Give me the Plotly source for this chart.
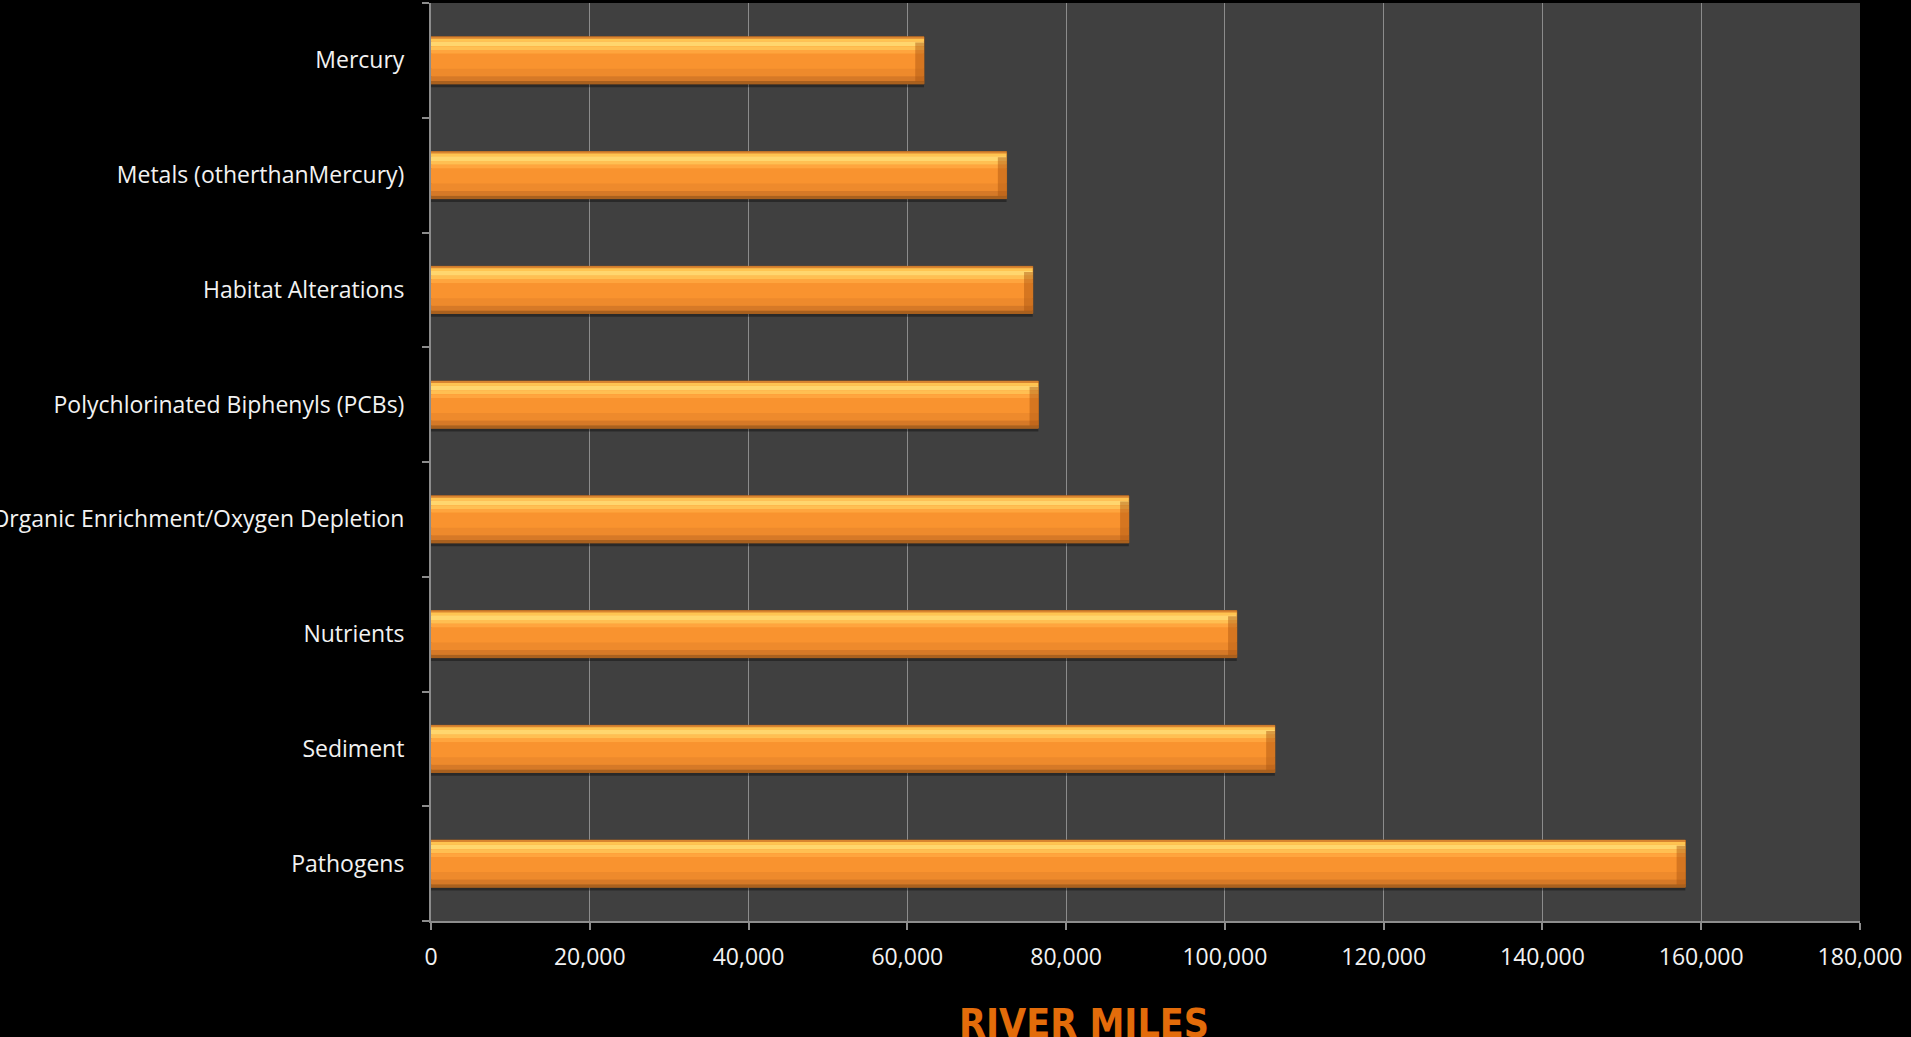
import plotly.graph_objects as go

# Impairment causes, listed bottom-to-top as they appear on the axis
causes = [
    "Pathogens",
    "Sediment",
    "Nutrients",
    "Organic Enrichment/Oxygen Depletion",
    "Polychlorinated Biphenyls (PCBs)",
    "Habitat Alterations",
    "Metals (otherthanMercury)",
    "Mercury",
]
river_miles = [158000, 106300, 101500, 87900, 76500, 75800, 72500, 62100]

x_ticks = [0, 20000, 40000, 60000, 80000, 100000, 120000, 140000, 160000, 180000]
x_tick_text = ["0", "20,000", "40,000", "60,000", "80,000", "100,000",
               "120,000", "140,000", "160,000", "180,000"]

BAR_H = 0.41  # bar thickness in category units
HALF = BAR_H / 2

# Horizontal shading bands (fraction from top of bar, fraction to, colour)
bands = [
    (0.00, 0.04, "#D98530"),
    (0.04, 0.10, "#FFC451"),
    (0.10, 0.20, "#FFD66E"),
    (0.20, 0.28, "#FFBF52"),
    (0.28, 0.36, "#FFA53E"),
    (0.36, 0.68, "#F9932F"),
    (0.68, 0.84, "#EE8A2C"),
    (0.84, 0.94, "#D67927"),
    (0.94, 1.00, "#A9601E"),
]

fig = go.Figure()

# soft drop shadow under each bar
fig.add_trace(go.Bar(
    y=causes, x=river_miles, orientation="h",
    offset=-HALF - 0.03, width=BAR_H,
    marker=dict(color="rgba(0,0,0,0.35)", line=dict(width=0)),
    hoverinfo="skip", showlegend=False,
))

# main body with outline
fig.add_trace(go.Bar(
    y=causes, x=river_miles, orientation="h",
    offset=-HALF, width=BAR_H,
    marker=dict(color="#F8922F", line=dict(color="#A85E1C", width=1)),
    hoverinfo="skip", showlegend=False,
))

# gradient bands
for t1, t2, col in bands:
    fig.add_trace(go.Bar(
        y=causes, x=river_miles, orientation="h",
        offset=HALF - t2 * BAR_H, width=(t2 - t1) * BAR_H,
        marker=dict(color=col, line=dict(width=0)),
        hoverinfo="skip", showlegend=False,
    ))

# darker bevel at the right end of each bar
bevel = 1100
fig.add_trace(go.Bar(
    y=causes, x=[bevel] * len(causes), base=[v - bevel for v in river_miles],
    orientation="h", offset=-HALF + 0.05 * BAR_H, width=0.83 * BAR_H,
    marker=dict(color="rgba(170,85,15,0.45)", line=dict(width=0)),
    hoverinfo="skip", showlegend=False,
))

fig.update_layout(
    width=1911, height=1037,
    barmode="overlay",
    paper_bgcolor="#000000",
    plot_bgcolor="#404040",
    margin=dict(l=431, r=51, t=3, b=116, autoexpand=False),
    font=dict(family="Open Sans, Noto Sans, sans-serif", color="#F2F2F2", size=23),
    xaxis=dict(
        range=[0, 180000],
        tickvals=x_ticks, ticktext=x_tick_text,
        showgrid=True, gridcolor="#8C8C8C", gridwidth=1.3,
        zeroline=False,
        showline=True, linecolor="#8C8C8C", linewidth=2,
        ticks="outside", ticklen=7, tickcolor="#8C8C8C", tickwidth=1.5,
        ticklabelstandoff=7,
        tickfont=dict(size=23, color="#F2F2F2"),
        automargin=False,
        fixedrange=True,
    ),
    yaxis=dict(
        type="category",
        categoryorder="array", categoryarray=causes,
        range=[-0.5, len(causes) - 0.5],
        showgrid=False, zeroline=False,
        showline=True, linecolor="#8C8C8C", linewidth=2,
        ticks="outside", ticklen=7, tickcolor="#8C8C8C", tickwidth=1.5,
        tickson="boundaries",
        ticklabelstandoff=20,
        tickfont=dict(size=23, color="#F2F2F2"),
        automargin=False,
        fixedrange=True,
    ),
    annotations=[dict(
        text="<b>RIVER MILES</b>",
        xref="paper", yref="paper",
        x=0.457, y=-0.112, xanchor="center", yanchor="middle",
        showarrow=False,
        font=dict(family="DejaVu Sans Condensed, sans-serif",
                  size=39, color="#E36C0A"),
    )],
)

fig.write_html("out.html")
